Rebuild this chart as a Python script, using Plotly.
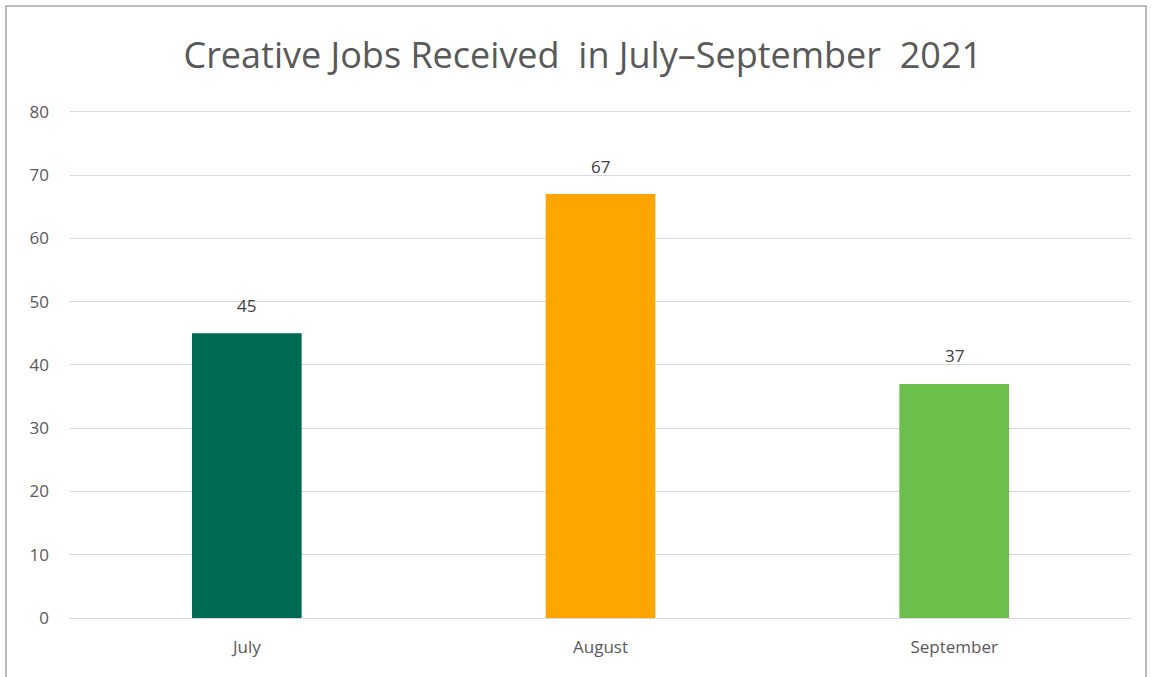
import plotly.graph_objects as go

months = ["July", "August", "September"]
jobs = [45, 67, 37]
bar_colors = ["#006B54", "#FFA500", "#6CBF4B"]
y_ticks = [0, 10, 20, 30, 40, 50, 60, 70, 80]
title_text = "Creative Jobs Received  in July\u2013September  2021"

fig = go.Figure()
fig.add_trace(go.Bar(
    x=months, y=jobs,
    marker=dict(color=bar_colors, line=dict(width=0)),
    width=0.31,
    hoverinfo="x+y",
))

for m, v in zip(months, jobs):
    fig.add_annotation(x=m, y=v, text=str(v), showarrow=False,
                       yanchor="middle", yshift=28,
                       font=dict(family="Open Sans", size=17, color="#404040"))

T, B = 108, 59
ph = 677 - T - B

fig.update_layout(
    width=1154, height=677,
    margin=dict(l=70, r=23, t=T, b=B),
    paper_bgcolor="white", plot_bgcolor="white",
    showlegend=False,
    title=dict(text=title_text, x=0.505, xanchor="center", y=1 - 55 / 677,
               yanchor="middle", yref="container",
               font=dict(family="Open Sans", size=36, color="#595959")),
    xaxis=dict(showgrid=False, showline=True, linecolor="#d9d9d9", linewidth=1,
               ticks="", ticklabelstandoff=14,
               tickfont=dict(family="Open Sans", size=17, color="#595959")),
    yaxis=dict(range=[0, 80.6], tickvals=y_ticks, showgrid=True, gridcolor="#d9d9d9",
               gridwidth=1, zeroline=False, showline=False, ticks="",
               ticklabelstandoff=20,
               tickfont=dict(family="Open Sans", size=17, color="#595959")),
)

fig.add_shape(type="rect", xref="paper", yref="paper",
              x0=(6 - 70) / 1061, x1=(1146 - 70) / 1061,
              y0=(618 - 690) / ph, y1=(618 - 6) / ph,
              line=dict(color="#a6a6a6", width=1.5), fillcolor="rgba(0,0,0,0)",
              layer="below")

fig.write_html("out.html")
